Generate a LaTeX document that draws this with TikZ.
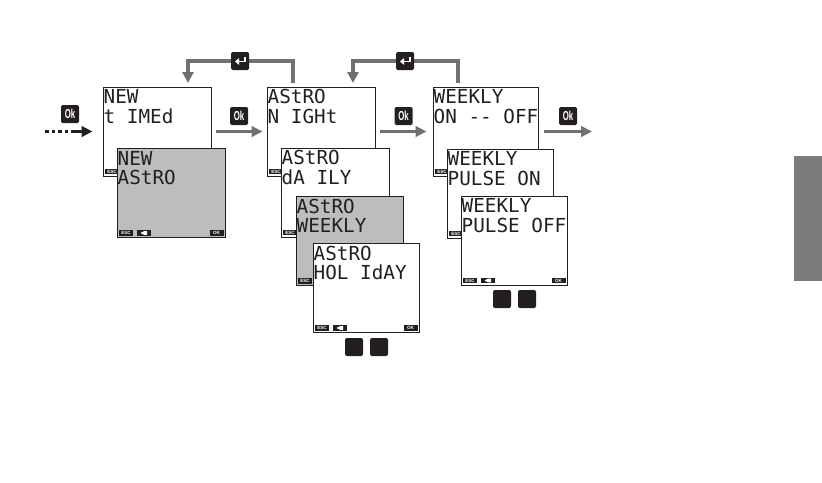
\documentclass[tikz,border=0pt]{standalone}
\usepackage{fontspec}
\usepackage{graphicx}
\setmainfont{Liberation Sans}
\newfontfamily\lcdfont{DejaVu Sans Mono}
\usetikzlibrary{arrows.meta,calc}
\pgfdeclarelayer{linework}
\pgfsetlayers{linework,main}
\definecolor{ink}{HTML}{231F20}
\definecolor{lcdgray}{HTML}{BDBDBD}
\definecolor{flowgray}{HTML}{737170}
\definecolor{tabgray}{HTML}{7E7C7B}
\tikzset{
  screen/.style={draw=ink,line width=1pt,minimum width=108pt,minimum height=89pt,inner sep=0pt,fill=#1},
  screen/.default=white,
  lcdtext/.style={anchor=south west,inner sep=0pt,align=left,text=ink,font=\lcdfont\fontsize{19.3}{19.5}\selectfont},
  softkey/.style={fill=ink,text=white,inner sep=0pt,minimum width=14pt,minimum height=5.6pt,font=\bfseries\fontsize{4.6}{5}\selectfont},
  iconbox/.style={fill=ink,rounded corners=1.5pt,minimum size=18pt,inner sep=0pt,text=white,font=\bfseries\fontsize{13}{14}\selectfont},
  keybox/.style={fill=ink,rounded corners=2pt,minimum size=18pt,inner sep=0pt},
  flowarrow/.style={draw=flowgray,line width=3.2pt,-{Triangle[length=11pt,width=10.5pt]}},
  backarrow/.style={draw=flowgray,line width=4pt,-{Triangle[length=11pt,width=11pt]}},
  entryarrow/.style={draw=ink,line width=3pt},
}
% name, centre x, centre y, fill and options, line 1, line 2
\newcommand{\lcdscreen}[6]{%
  \node[screen={#4}] (#1) at (#2,#3) {};
  \node[lcdtext] (#1-text) at ($(#1.north west)+(1,37)$) {#5\\#6};
  \node[softkey] (#1-esc) at ($(#1.south west)+(9.5,-5)$) {ESC};
}
\newcommand{\lcdnav}[1]{%
  \node[softkey] (#1-nav) at ($(#1.south west)+(27.5,-5)$) {};
  \fill[white] ($(#1-nav.center)+(-3.5,0)$) -- ++(3.5,-1.8) -- ++(3,0) -- ++(0,3.6) -- ++(-3,0) -- cycle;
  \node[softkey] (#1-ok) at ($(#1.south east)+(-9,-5)$) {OK};
}
\newcommand{\okicon}[3]{\node[iconbox] (#1) at (#2,#3) {\scalebox{0.6}[1]{Ok}};}
\newcommand{\entericon}[3]{%
  \node[iconbox] (#1) at (#2,#3) {};
  \draw[white,line width=1.6pt,-{Triangle[length=4pt,width=6.5pt]}] ($(#1.center)+(5,-4)$) -- ++(0,4.5) -- ++(-10,0);
}
\begin{document}
\begin{tikzpicture}[x=1pt,y=-1pt]
\useasboundingbox (0,0) rectangle (822,482);
% side tab
\fill[tabgray] (794,156) rectangle (822,281);
% screens
\lcdscreen{timed}{157}{131.5}{white}{NEW}{t IMEd}
\lcdscreen{newastro}{171}{193}{lcdgray}{NEW}{AStRO}
\lcdnav{newastro}
\lcdscreen{night}{321}{131.5}{white}{AStRO}{N IGHt}
\lcdscreen{daily}{335}{192.5}{white}{AStRO}{dA ILY}
\lcdscreen{astroweekly}{349.5}{241}{lcdgray,minimum width=107pt}{AStRO}{WEEKLY}
\lcdscreen{holiday}{366}{288}{white,minimum width=106pt}{AStRO}{HOL IdAY}
\lcdnav{holiday}
\lcdscreen{onoff}{485.5}{131.5}{white,minimum width=105pt}{WEEKLY}{ON -- OFF}
\lcdscreen{pulseon}{500}{193.5}{white,minimum width=106pt}{WEEKLY}{PULSE ON}
\lcdscreen{pulseoff}{514}{240.5}{white,minimum width=106pt}{WEEKLY}{PULSE OFF}
\lcdnav{pulseoff}
% key squares
\node[keybox] (keya) at (354,347) {};
\node[keybox] (keyb) at (379,347) {};
\node[keybox] (keyc) at (502,299) {};
\node[keybox] (keyd) at (527,299) {};
% icons
\okicon{oka}{70}{114}
\okicon{okb}{239}{116}
\okicon{okc}{403.5}{116}
\okicon{okd}{568}{116}
\entericon{enta}{240}{61}
\entericon{entb}{405}{61}
% forward arrows
\coordinate (entrystart) at (45,131.5);
\coordinate (entrymid) at (72,131.5);
\coordinate (exitpoint) at (592,131.5);
\draw[entryarrow,dash pattern=on 3.5pt off 3pt] (entrystart) -- (entrymid);
\draw[entryarrow,-{Triangle[length=11pt,width=10.5pt]},shorten >=10pt] (entrymid) -- (timed.west);
\draw[flowarrow,shorten <=4pt,shorten >=4pt] (timed.east) -- (night.west);
\draw[flowarrow,shorten <=4pt,shorten >=6pt] (night.east) -- (onoff.west);
\draw[flowarrow,shorten <=5pt] (onoff.east) -- (exitpoint);
% return arrows, behind the icons
\coordinate (nighttop) at (293,87);
\coordinate (timedtop) at (188,87);
\coordinate (onofftop) at (458,87);
\coordinate (nightin) at (353,87);
\begin{pgfonlayer}{linework}
\draw[backarrow,shorten <=4pt,shorten >=4pt] (nighttop) |- (enta.center) -| (timedtop);
\draw[backarrow,shorten <=4pt,shorten >=4pt] (onofftop) |- (entb.center) -| (nightin);
\end{pgfonlayer}
\end{tikzpicture}
\end{document}
